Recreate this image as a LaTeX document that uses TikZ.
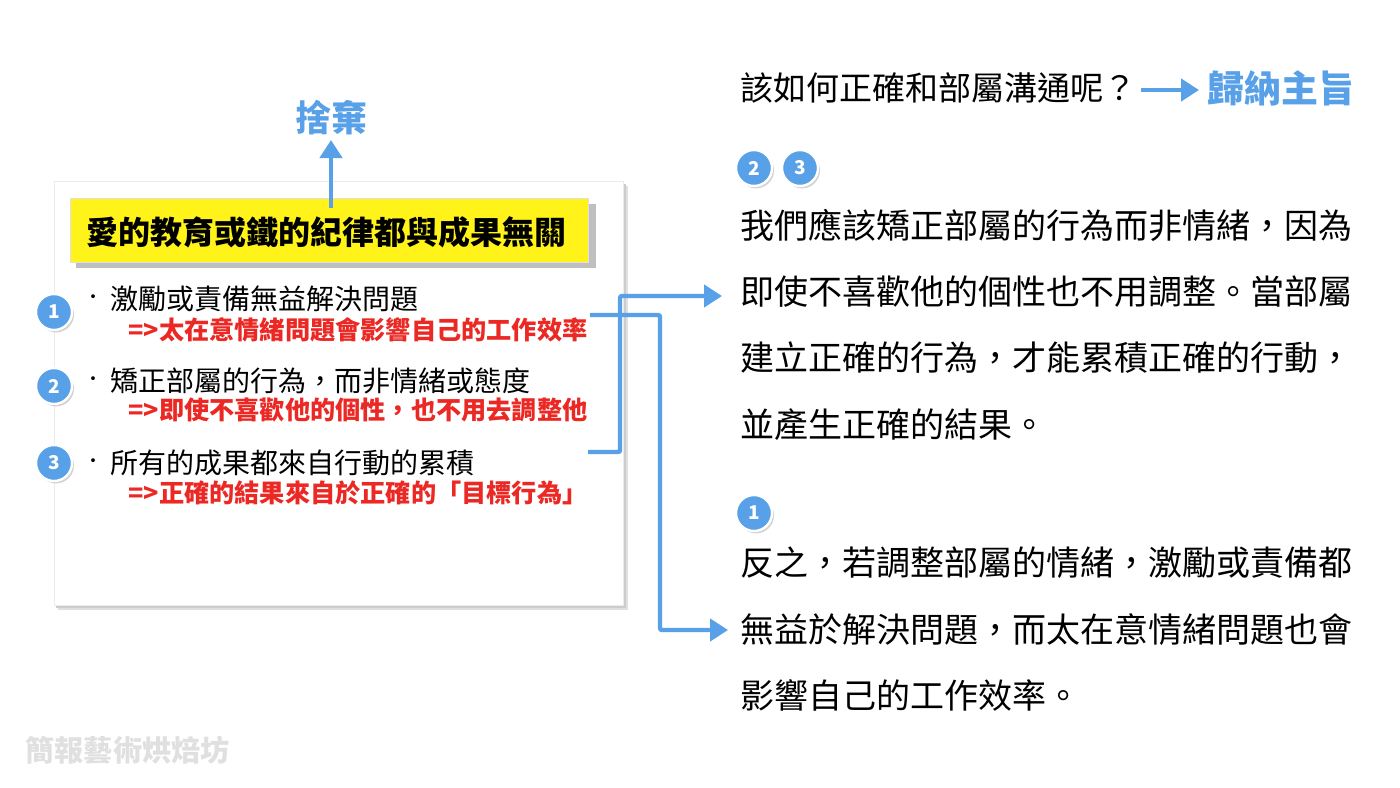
\documentclass[tikz,border=0pt]{standalone}
\usepackage{fontspec}
\setmainfont{Noto Sans CJK TC}
\usetikzlibrary{arrows.meta,shadows,calc}
\definecolor{myblue}{RGB}{88,160,232}
\definecolor{myred}{RGB}{235,40,35}
\tikzset{
 num/.style={circle,fill=myblue,draw=white,line width=1.2pt,text=white,minimum size=18pt,inner sep=0,font=\fontsize{9.5}{9.5}\selectfont\bfseries,drop shadow={shadow xshift=1pt,shadow yshift=-1.2pt,opacity=0.35}},
 blk/.style={anchor=west,inner sep=0,font=\fontsize{14}{14}\selectfont},
 bul/.style={inner sep=0,font=\fontsize{9}{9}\selectfont},
 red/.style={anchor=west,inner sep=0,text=myred,font=\fontsize{12.6}{12.6}\selectfont\bfseries},
 para/.style={anchor=west,inner sep=0,font=\fontsize{17}{17}\selectfont},
 conn/.style={myblue,line width=2.2pt,-{Triangle[length=9pt,width=11pt]}},
}
\begin{document}
\begin{tikzpicture}[x=0.5pt,y=-0.5pt]
\useasboundingbox (0,0) rectangle (1400,787);
% left box
\fill[black!12] (58,186) rectangle (628,610);
\fill[black!20] (56,184) rectangle (626,608);
\node[fill=white,minimum width=284.5pt,minimum height=212pt,inner sep=0,anchor=north west,draw=black!8] (box) at (54,181) {};
\fill[black!25] (76,204) rectangle (596,268);
\node[fill=yellow!90!white,draw=black!12,minimum width=259pt,minimum height=32pt,inner sep=0,anchor=north west] (title) at (70,198) {};
\node[inner sep=0,font=\fontsize{16}{16}\selectfont\bfseries] (tt) at (326,232) {愛的教育或鐵的紀律都與成果無關};
\node[inner sep=0,text=myblue,font=\fontsize{18}{18}\selectfont\bfseries] (drop) at (331,118) {捨棄};
\coordinate (upstart) at (331,208);
\draw[conn] (upstart) -- (331,140);
% items
\node[num] (n1) at (54,312) {1};
\node[num] (n2) at (54,386) {2};
\node[num] (n3) at (54,463) {3};
\node[bul] (d1) at (93,299) {•};
\node[bul] (d2) at (93,381) {•};
\node[bul] (d3) at (93,463) {•};
\node[blk] (b1) at (110,299) {激勵或責備無益解決問題};
\node[red] (r1) at (128,330) {=>太在意情緒問題會影響自己的工作效率};
\node[blk] (b2) at (110,381) {矯正部屬的行為，而非情緒或態度};
\node[red] (r2) at (128,410) {=>即使不喜歡他的個性，也不用去調整他};
\node[blk] (b3) at (110,463) {所有的成果都來自行動的累積};
\node[red] (r3) at (128,493) {=>正確的結果來自於正確的「目標行為」};
% right
\node[inner sep=0,anchor=west,font=\fontsize{16.5}{16.5}\selectfont] (q) at (740,88) {該如何正確和部屬溝通呢？};
\node[inner sep=0,anchor=west,text=myblue,font=\fontsize{18.5}{18.5}\selectfont\bfseries] (sum) at (1207,88) {歸納主旨};
\draw[conn] ($(q.east)+(4,2)$) -- ($(sum.west)+(-8,2)$);
\node[num] (m2) at (754,168) {2};
\node[num] (m3) at (800,168) {3};
\node[para] (p1) at (740,225) {我們應該矯正部屬的行為而非情緒，因為};
\node[para] (p2) at (740,292) {即使不喜歡他的個性也不用調整。當部屬};
\node[para] (p3) at (740,358) {建立正確的行為，才能累積正確的行動，};
\node[para] (p4) at (740,425) {並產生正確的結果。};
\node[num] (m1) at (754,513) {1};
\node[para] (s1) at (740,563) {反之，若調整部屬的情緒，激勵或責備都};
\node[para] (s2) at (740,630) {無益於解決問題，而太在意情緒問題也會};
\node[para] (s3) at (740,695) {影響自己的工作效率。};
% connectors
\coordinate (a1) at (588,452);
\coordinate (a2) at (590,315);
\draw[conn,rounded corners=1pt] (a1) -- (620,452) -- (620,296) -- ($(p2.west)+(-18,4)$);
\draw[conn,rounded corners=1pt] (a2) -- (660,315) -- (660,630) -- ($(s2.west)+(-12,0)$);
\node[inner sep=0,anchor=west,text=black!12,font=\fontsize{14.6}{14.6}\selectfont\bfseries] (wm) at (25,750) {簡報藝術烘焙坊};
\end{tikzpicture}
\end{document}
